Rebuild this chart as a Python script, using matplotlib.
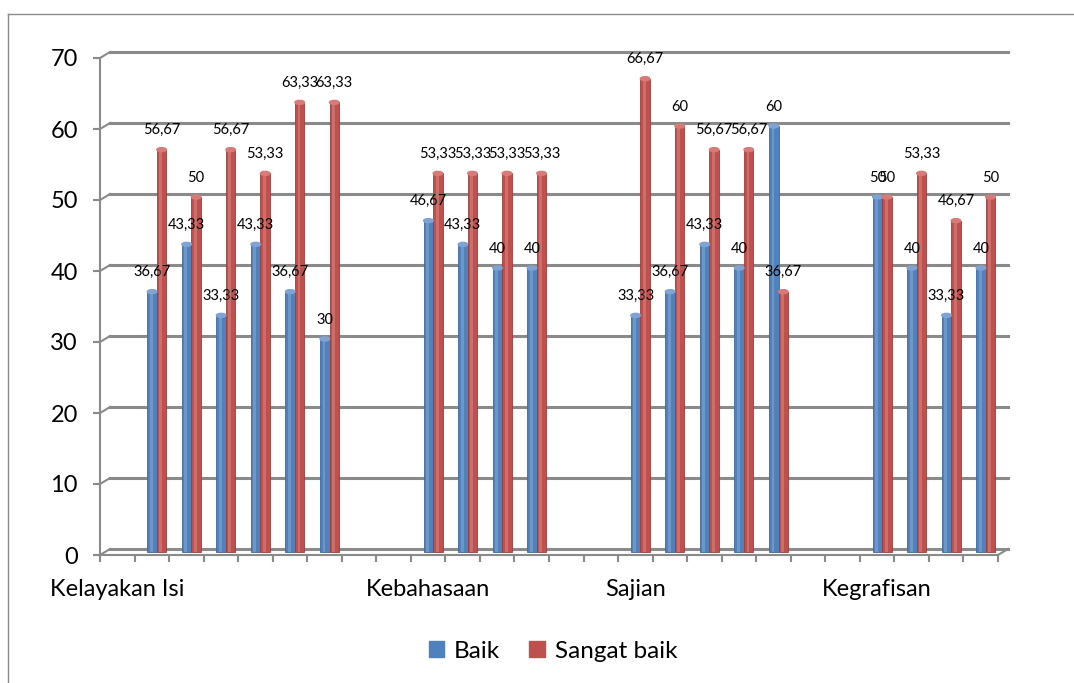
import numpy as np
import matplotlib
matplotlib.use("Agg")
import matplotlib.pyplot as plt
import matplotlib.transforms as mtransforms
from matplotlib.patches import Patch, Ellipse
from matplotlib.lines import Line2D

plt.rcParams['font.family'] = ['Lato', 'DejaVu Sans']

# one entry per category slot on the x axis (empty slots = gaps between groups)
slot_labels = ["Kelayakan Isi", "", "", "", "", "", "", "", "",
               "Kebahasaan", "", "", "", "", "",
               "Sajian", "", "", "", "", "", "",
               "Kegrafisan", "", "", ""]
nan = np.nan
baik = [nan, 36.67, 43.33, 33.33, 43.33, 36.67, 30, nan, nan,
        46.67, 43.33, 40, 40, nan, nan,
        33.33, 36.67, 43.33, 40, 60, nan, nan,
        50, 40, 33.33, 40]
sangat_baik = [nan, 56.67, 50, 56.67, 53.33, 63.33, 63.33, nan, nan,
               53.33, 53.33, 53.33, 53.33, nan, nan,
               66.67, 60, 56.67, 56.67, 36.67, nan, nan,
               50, 53.33, 46.67, 50]
yticks = [0, 10, 20, 30, 40, 50, 60, 70]

blue = '#4F81BD'
red = '#C0504D'
blue_cap = '#7ea3d4'
red_cap = '#d87b78'
grey = '#8a8a8a'

def fmt(v):
    return ("%g" % v).replace('.', ',')

fig = plt.figure(figsize=(10.74, 6.83), dpi=100)
ax = fig.add_axes([100/1074, 128/683, 898/1074, 497/683])
n = len(slot_labels)

# pixel -> data scale, used for the fake 3d depth
sx = n/898
sy = 70/497
mid = ax.transData + mtransforms.ScaledTranslation(0.05, 0.03, fig.dpi_scale_trans)
back = ax.transData + mtransforms.ScaledTranslation(0.10, 0.06, fig.dpi_scale_trans)

# back wall gridlines
for v in yticks:
    ax.plot([0, n], [v, v], color=grey, lw=2.2, transform=back, clip_on=False, zorder=1)
    ax.plot([0, 10*sx], [v, v + 6*sy], color=grey, lw=1.5, clip_on=False, zorder=1)
ax.plot([n, n + 10*sx], [0, 6*sy], color=grey, lw=1.5, clip_on=False, zorder=1)

x = np.arange(n) + 0.5
w = 0.275
b1 = ax.bar(x - w/2, baik, w, color=blue, edgecolor='#3d6a9e', lw=0.6, zorder=3)
b2 = ax.bar(x + w/2, sangat_baik, w, color=red, edgecolor='#9e3d3a', lw=0.6, zorder=3)
# light stripe to fake the cylinder shading
h1 = ax.bar(x - w/2 - w*0.08, baik, w*0.3, color='white', alpha=0.18, lw=0, zorder=3.5)
h2 = ax.bar(x + w/2 - w*0.08, sangat_baik, w*0.3, color='white', alpha=0.18, lw=0, zorder=3.5)
for p in list(b1) + list(b2) + list(h1) + list(h2):
    p.set_transform(mid)
    p.set_clip_on(False)

for xi, v1, v2 in zip(x, baik, sangat_baik):
    if not np.isnan(v1):
        ax.add_patch(Ellipse((xi - w/2, v1), w, 4*sy, color=blue_cap, transform=mid, zorder=4, clip_on=False))
        ax.annotate(fmt(v1), (xi - w/2, v1), xycoords=mid, xytext=(0, 14),
                    textcoords='offset points', ha='center', va='center', fontsize=10.5)
    if not np.isnan(v2):
        ax.add_patch(Ellipse((xi + w/2, v2), w, 4*sy, color=red_cap, transform=mid, zorder=4, clip_on=False))
        ax.annotate(fmt(v2), (xi + w/2, v2), xycoords=mid, xytext=(0, 14),
                    textcoords='offset points', ha='center', va='center', fontsize=10.5)

ax.set_xlim(0, n)
ax.set_ylim(0, 70)
ax.patch.set_visible(False)
for s in ['top', 'right']:
    ax.spines[s].set_visible(False)
for s in ['left', 'bottom']:
    ax.spines[s].set_color(grey)
    ax.spines[s].set_linewidth(1.5)

ax.set_yticks(yticks)
ax.tick_params(axis='y', length=5, width=1.5, color=grey, labelsize=17, pad=11)
ax.set_xticks(range(n + 1))
ax.set_xticklabels([])
ax.tick_params(axis='x', which='major', length=5, width=1.5, color=grey)
pos = [i + 0.5 for i, s in enumerate(slot_labels) if s]
ax.set_xticks(pos, minor=True)
ax.set_xticklabels([s for s in slot_labels if s], minor=True)
ax.tick_params(axis='x', which='minor', length=0, pad=17, labelsize=17)

# chart area border
fig.add_artist(Line2D([8/1074, 1], [1 - 14/683, 1 - 14/683], transform=fig.transFigure, color=grey, lw=1))
fig.add_artist(Line2D([8/1074, 8/1074], [1 - 14/683, 0], transform=fig.transFigure, color=grey, lw=1))

fig.legend(handles=[Patch(color=blue, label='Baik'), Patch(color=red, label='Sangat baik')],
           loc='center', bbox_to_anchor=(553/1074, 1 - 651/683), ncol=2, frameon=False,
           fontsize=17.5, handlelength=0.65, handleheight=0.65, handletextpad=0.4, columnspacing=1.2)

fig.savefig('out.png', dpi=100)
